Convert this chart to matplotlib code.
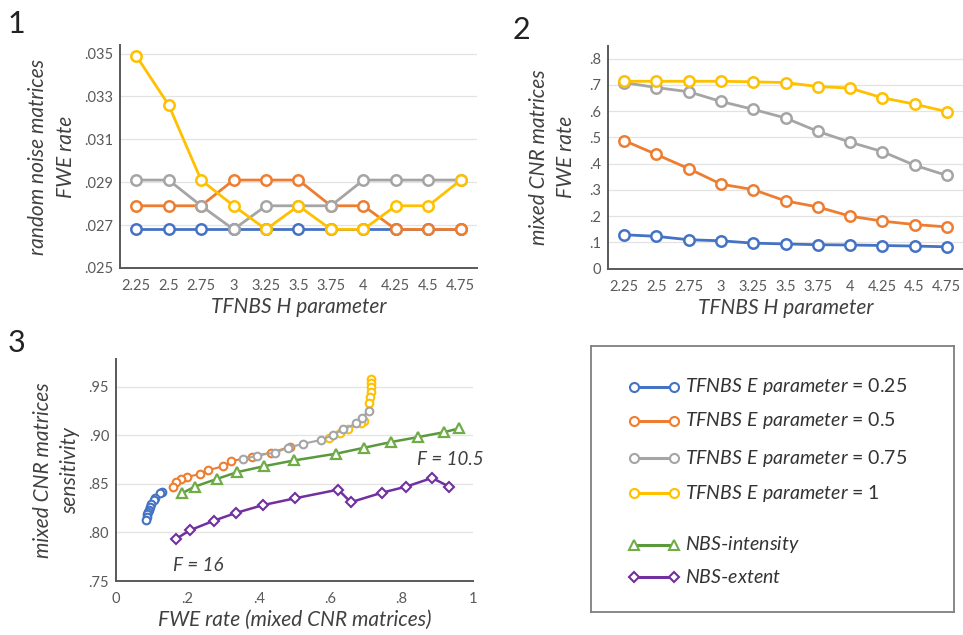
import matplotlib
matplotlib.use("Agg")
import matplotlib.pyplot as plt

plt.rcParams['font.family'] = ['Lato', 'DejaVu Sans']
plt.rcParams['mathtext.fontset'] = 'custom'
plt.rcParams['mathtext.it'] = 'Lato:italic'
plt.rcParams['mathtext.rm'] = 'Lato'

# ---- data ----
h_values = [2.25, 2.5, 2.75, 3, 3.25, 3.5, 3.75, 4, 4.25, 4.5, 4.75]
h_labels = ['2.25', '2.5', '2.75', '3', '3.25', '3.5', '3.75', '4', '4.25', '4.5', '4.75']

# panel 1: FWE rate, random noise matrices
noise_e025 = [.0268, .0268, .0268, .0268, .0268, .0268, .0268, .0268, .0268, .0268, .0268]
noise_e05 = [.0279, .0279, .0279, .0291, .0291, .0291, .0279, .0279, .0268, .0268, .0268]
noise_e075 = [.0291, .0291, .0279, .0268, .0279, .0279, .0279, .0291, .0291, .0291, .0291]
noise_e1 = [.0349, .0326, .0291, .0279, .0268, .0279, .0268, .0268, .0279, .0279, .0291]
noise_ticks = [.025, .027, .029, .031, .033, .035]
noise_tick_labels = ['.025', '.027', '.029', '.031', '.033', '.035']

# panel 2: FWE rate, mixed CNR matrices
cnr_e025 = [.129, .123, .110, .106, .097, .094, .091, .090, .088, .086, .083]
cnr_e05 = [.488, .435, .381, .322, .301, .258, .235, .200, .181, .168, .159]
cnr_e075 = [.709, .690, .674, .637, .607, .574, .523, .482, .446, .394, .355]
cnr_e1 = [.714, .714, .714, .714, .712, .709, .694, .688, .651, .627, .598]
cnr_ticks = [0, .1, .2, .3, .4, .5, .6, .7, .8]
cnr_tick_labels = ['0', '.1', '.2', '.3', '.4', '.5', '.6', '.7', '.8']

# panel 3: sensitivity vs FWE rate (mixed CNR)
sens_e025 = [.842, .840, .835, .833, .829, .826, .823, .821, .819, .816, .813]
sens_e05 = [.888, .882, .878, .873, .868, .864, .860, .857, .855, .852, .847]
sens_e075 = [.925, .918, .912, .906, .900, .895, .891, .887, .882, .879, .875]
sens_e1 = [.958, .954, .949, .944, .939, .933, .915, .912, .906, .902, .897]
intensity_fwe = [.184, .220, .283, .340, .414, .499, .618, .695, .772, .847, .919, .962]
intensity_sens = [.840, .847, .855, .862, .868, .874, .881, .887, .893, .898, .903, .907]
extent_fwe = [.167, .206, .274, .336, .411, .501, .623, .658, .747, .813, .886, .934]
extent_sens = [.793, .802, .812, .820, .828, .835, .844, .831, .841, .847, .856, .847]
sens_ticks = [.75, .80, .85, .90, .95]
sens_tick_labels = ['.75', '.80', '.85', '.90', '.95']
fwe_ticks = [0, .2, .4, .6, .8, 1]
fwe_tick_labels = ['0', '.2', '.4', '.6', '.8', '1']

legend_labels = ['TFNBS E parameter', 'TFNBS E parameter', 'TFNBS E parameter',
                 'TFNBS E parameter', 'NBS-intensity', 'NBS-extent']
legend_values = ['0.25', '0.5', '0.75', '1', '', '']

colors = ['#4472C4', '#ED7D31', '#A5A5A5', '#FFC000']
green = '#70AD47'
green_line = '#5a9a3c'
purple = '#7030A0'
tick_color = '#595959'
label_color = '#404040'


def style_axes(ax):
    for s in ['top', 'right']:
        ax.spines[s].set_visible(False)
    for s in ['left', 'bottom']:
        ax.spines[s].set_color('#595959')
        ax.spines[s].set_linewidth(1.4)
    ax.grid(axis='y', color='#e3e3e3', linewidth=0.9)
    ax.set_axisbelow(True)
    ax.tick_params(length=0, labelsize=10.5, labelcolor=tick_color)
    ax.tick_params(axis='x', pad=8)
    ax.tick_params(axis='y', pad=5)


fig = plt.figure(figsize=(9.63, 6.35), dpi=100)

# panel 1
ax1 = fig.add_axes([0.1246, 0.578, 0.3707, 0.3512])
for series, c in zip([noise_e025, noise_e05, noise_e075, noise_e1], colors):
    ax1.plot(h_values, series, color=c, lw=2.0, marker='o', ms=7.5,
             mfc='white', mec=c, mew=1.8)
ax1.set_xlim(2.125, 4.875)
ax1.set_ylim(.025, .0354)
ax1.set_xticks(h_values)
ax1.set_xticklabels(h_labels)
ax1.set_yticks(noise_ticks)
ax1.set_yticklabels(noise_tick_labels)
style_axes(ax1)
ax1.set_xlabel('TFNBS H parameter', fontsize=15, style='italic', color=label_color, labelpad=3)
ax1.set_ylabel('random noise matrices\nFWE rate', fontsize=15, style='italic',
               color=label_color, labelpad=6, linespacing=1.45)

# panel 2
ax2 = fig.add_axes([0.6314, 0.577, 0.3686, 0.3512])
for series, c in zip([cnr_e025, cnr_e05, cnr_e075, cnr_e1], colors):
    ax2.plot(h_values, series, color=c, lw=2.0, marker='o', ms=7.5,
             mfc='white', mec=c, mew=1.8)
ax2.set_xlim(2.125, 4.875)
ax2.set_ylim(0, .85)
ax2.set_xticks(h_values)
ax2.set_xticklabels(h_labels)
ax2.set_yticks(cnr_ticks)
ax2.set_yticklabels(cnr_tick_labels)
style_axes(ax2)
ax2.set_xlabel('TFNBS H parameter', fontsize=15, style='italic', color=label_color, labelpad=3)
ax2.set_ylabel('mixed CNR matrices\nFWE rate', fontsize=15, style='italic',
               color=label_color, labelpad=9, linespacing=1.45)

# panel 3
ax3 = fig.add_axes([0.1205, 0.085, 0.3704, 0.3492])
tf_x = [cnr_e025, cnr_e05, cnr_e1, cnr_e075]
tf_y = [sens_e025, sens_e05, sens_e1, sens_e075]
tf_c = [colors[0], colors[1], colors[3], colors[2]]
for xs, ys, c in zip(tf_x, tf_y, tf_c):
    ax3.plot(xs, ys, color=c, lw=1.5, marker='o', ms=5.5,
             mfc='white', mec=c, mew=1.5)
ax3.plot(intensity_fwe, intensity_sens, color=green_line, lw=1.8, marker='^', ms=7.5,
         mfc='white', mec=green, mew=1.6)
ax3.plot(extent_fwe, extent_sens, color=purple, lw=1.8, marker='D', ms=5.5,
         mfc='white', mec=purple, mew=1.5)
ax3.set_xlim(0, 1)
ax3.set_ylim(.75, .978)
ax3.set_xticks(fwe_ticks)
ax3.set_xticklabels(fwe_tick_labels)
ax3.set_yticks(sens_ticks)
ax3.set_yticklabels(sens_tick_labels)
style_axes(ax3)
ax3.set_xlabel('FWE rate (mixed CNR matrices)', fontsize=15, style='italic',
               color=label_color, labelpad=3)
ax3.set_ylabel('mixed CNR matrices\nsensitivity', fontsize=15, style='italic',
               color=label_color, labelpad=6, linespacing=1.45)
ax3.text(.843, .8745, 'F = 10.5', fontsize=13.5, style='italic', color=label_color, va='center')
ax3.text(.16, .766, 'F = 16', fontsize=13.5, style='italic', color=label_color, va='center')

# panel numbers
fig.text(0.008, 0.985, '1', fontsize=22, color='#222222', va='top')
fig.text(0.532, 0.975, '2', fontsize=22, color='#222222', va='top')
fig.text(0.008, 0.482, '3', fontsize=22, color='#222222', va='top')

# legend box, drawn by hand so the gap before the NBS rows matches
axl = fig.add_axes([591 / 963, 1 - 612 / 635, (954 - 591) / 963, (612 - 346) / 635])
axl.set_xlim(0, 1)
axl.set_ylim(0, 1)
axl.set_xticks([])
axl.set_yticks([])
for s in axl.spines.values():
    s.set_color('#7f7f7f')
    s.set_linewidth(1.3)

row_y = [.847, .719, .578, .446, .252, .133]
row_style = [(c, c, 'o', 6.5) for c in colors] + [(green_line, green, '^', 7.5),
                                                   (purple, purple, 'D', 5.5)]
for y, lab, val, (lc, mc, mk, ms) in zip(row_y, legend_labels, legend_values, row_style):
    axl.plot([.118, .228], [y, y], color=lc, lw=2.2, marker=mk, ms=ms,
             mfc='white', mec=mc, mew=1.5)
    txt = r'$\mathit{' + lab.replace(' ', r'\ ').replace('-', r'\text{-}') + '}$'
    if val:
        txt += ' = ' + val
    axl.text(.258, y, txt, fontsize=14, color='#333333', va='center')

fig.savefig('out.png', dpi=100)
